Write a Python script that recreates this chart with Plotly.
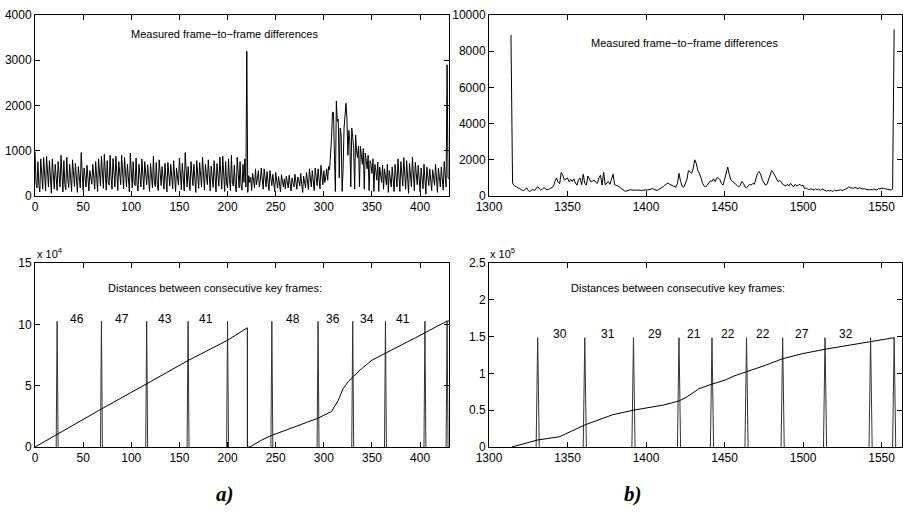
import plotly.graph_objects as go

# ---------------- data ----------------
# a) measured frame-to-frame differences, frames 0..430
diff_a = [
    980, 300, 180, 760, 240, 90, 820, 420, 150, 850,
    300, 110, 880, 350, 200, 780, 260, 60, 820, 330,
    160, 700, 280, 120, 760, 400, 200, 900, 310, 90,
    780, 250, 140, 860, 380, 190, 700, 260, 100, 800,
    420, 210, 720, 300, 80, 650, 350, 180, 960, 290,
    120, 620, 330, 200, 680, 250, 110, 560, 380, 260,
    700, 300, 150, 760, 280, 100, 820, 440, 220, 880,
    330, 170, 920, 360, 130, 780, 300, 240, 900, 420,
    150, 830, 350, 200, 880, 300, 120, 760, 380, 250,
    900, 310, 160, 850, 420, 200, 700, 280, 90, 950,
    380, 180, 760, 300, 230, 840, 260, 110, 700, 350,
    200, 820, 300, 140, 760, 420, 250, 690, 280, 100,
    720, 330, 180, 880, 300, 210, 740, 260, 120, 800,
    400, 230, 650, 300, 150, 720, 280, 90, 740, 360,
    220, 700, 310, 160, 780, 250, 100, 620, 380, 240,
    840, 300, 140, 720, 260, 110, 960, 380, 200, 650,
    300, 120, 760, 350, 230, 700, 260, 80, 780, 420,
    170, 740, 300, 200, 860, 310, 130, 700, 380, 250,
    800, 270, 110, 660, 320, 190, 780, 260, 90, 720,
    400, 220, 860, 300, 150, 880, 330, 100, 760, 280,
    180, 820, 360, 120, 900, 300, 220, 680, 250, 90,
    860, 320, 180, 760, 240, 130, 700, 300, 820, 200,
    3200, 80, 450, 300, 420, 120, 500, 350, 180, 600,
    250, 380, 560, 200, 330, 620, 280, 150, 600, 350,
    200, 540, 300, 120, 560, 420, 230, 480, 260, 100,
    520, 300, 180, 430, 260, 90, 470, 330, 200, 380,
    160, 440, 300, 180, 460, 250, 110, 400, 320, 200,
    480, 280, 150, 420, 350, 220, 500, 260, 80, 440,
    300, 180, 520, 280, 140, 600, 330, 200, 560, 260,
    120, 620, 350, 230, 600, 300, 160, 680, 380, 250,
    560, 300, 420, 600, 350, 650, 580, 900, 1300, 1850,
    1850, 900, 100, 2100, 1650, 1700, 400, 1500, 1350, 100,
    600, 1500, 1950, 2050, 1700, 900, 1450, 1200, 200, 1500,
    1300, 1050, 150, 1350, 1000, 850, 1100, 200, 1100, 950,
    700, 1050, 150, 950, 800, 600, 900, 120, 780, 700,
    500, 820, 100, 700, 560, 350, 750, 100, 640, 500,
    300, 680, 150, 600, 420, 250, 700, 80, 560, 380,
    200, 640, 300, 100, 700, 420, 200, 820, 330, 100,
    760, 400, 220, 850, 300, 150, 780, 260, 60, 720,
    420, 200, 860, 300, 120, 740, 380, 250, 680, 280,
    90, 620, 330, 160, 700, 260, 40, 640, 380, 230,
    600, 300, 120, 580, 420, 240, 700, 280, 80, 620,
    350, 200, 640, 300, 130, 760, 400, 200, 2900, 400,
    380,
]
frames_a_start = 0

# b) measured frame-to-frame differences, frames 1314..1558
diff_b = [
    8900, 720, 580, 520, 470, 420, 380, 330, 290, 380,
    450, 300, 250, 320, 360, 300, 420, 520, 400, 330,
    380, 460, 400, 340, 370, 420, 450, 520, 800, 1000,
    760, 680, 1300, 1150, 880, 950, 1000, 780, 920, 800,
    950, 720, 600, 880, 1000, 620, 1200, 700, 600, 1100,
    950, 780, 820, 880, 760, 700, 1000, 1150, 600, 1300,
    620, 700, 800, 650, 900, 1200, 620, 600, 560, 500,
    420, 350, 300, 260, 300, 340, 350, 330, 320, 300,
    320, 330, 310, 300, 320, 350, 340, 330, 360, 380,
    400, 380, 330, 300, 350, 400, 450, 520, 600, 680,
    720, 650, 600, 580, 520, 480, 700, 1250, 800, 550,
    480, 750, 900, 1400, 1350, 1250, 1500, 2000, 1800, 1400,
    1250, 1000, 700, 550, 500, 600, 700, 850, 800, 950,
    800, 1000, 1000, 900, 700, 600, 900, 1300, 1600, 1200,
    900, 800, 750, 650, 550, 500, 600, 800, 700, 500,
    450, 550, 650, 600, 700, 650, 1000, 1250, 1350, 1200,
    900, 700, 600, 650, 900, 1200, 1400, 1300, 1100, 900,
    800, 850, 800, 650, 600, 550, 650, 550, 700, 600,
    500, 650, 550, 600, 650, 550, 600, 400, 450, 380,
    350, 400, 380, 320, 400, 350, 380, 300, 400, 350,
    300, 260, 320, 280, 300, 250, 330, 280, 300, 320,
    350, 300, 320, 380, 420, 500, 460, 450, 420, 480,
    450, 400, 460, 420, 380, 400, 380, 350, 330, 360,
    340, 380, 350, 330, 400, 420, 450, 430, 400, 380,
    360, 350, 330, 380, 9200,
]
frames_b_start = 1314

# a) cumulative distance curve (vertices)
curve_a_x = [0, 23, 69, 116, 159, 200, 220.5, 220.6, 223, 235, 246, 270, 294, 308, 315, 320, 325.5, 330.7, 337.7, 350, 364, 395, 428, 430]
curve_a_y = [0, 10500, 31000, 51500, 70500, 87000, 97200, 0, 0, 5500, 9500, 16500, 23500, 29000, 38000, 47500, 53500, 57500, 62800, 70800, 76300, 89000, 102700, 102700]
keyframes_a = [23, 69, 116, 159, 200, 246, 294, 330, 364, 405, 428]
spike_a = 102500
labels_a = ["46", "47", "43", "41", "48", "36", "34", "41"]
label_gap_starts_a = [23, 69, 116, 159, 246, 294, 330, 364]

# b) cumulative distance curve (vertices)
curve_b_x = [1314.5, 1331, 1345, 1361, 1379, 1392, 1411, 1421, 1426, 1433.5, 1442, 1450.5, 1456, 1464, 1470, 1476, 1487, 1500, 1514.5, 1530, 1543, 1558]
curve_b_y = [0, 9500, 14000, 30000, 44000, 50000, 57000, 62500, 68000, 79000, 85500, 91000, 96500, 102000, 106000, 111000, 120000, 127000, 133000, 138500, 144000, 148500]
keyframes_b = [1331, 1361, 1392, 1421, 1442, 1464, 1487, 1514, 1543, 1558]
spike_b = 148500
labels_b = ["30", "31", "29", "21", "22", "22", "27", "32"]

# ---------------- figure ----------------
FONT = "Liberation Sans, Arial, Helvetica, sans-serif"
W, H = 903, 532

def px_x(p):
    return p / W

def px_y(p):
    return 1 - p / H

def spikes(keys, height):
    xs, ys = [], []
    for k in keys:
        xs += [k - 1, k, k + 1, None]
        ys += [0, height, 0, None]
    return xs, ys

fig = go.Figure()
line = dict(color="black", width=1)

fig.add_trace(go.Scatter(x=list(range(frames_a_start, frames_a_start + len(diff_a))), y=diff_a,
                         mode="lines", line=line, xaxis="x", yaxis="y"))
fig.add_trace(go.Scatter(x=list(range(frames_b_start, frames_b_start + len(diff_b))), y=diff_b,
                         mode="lines", line=line, xaxis="x2", yaxis="y2"))

sx, sy = spikes(keyframes_a, spike_a)
fig.add_trace(go.Scatter(x=sx, y=sy, mode="lines", line=dict(color="#333", width=1), xaxis="x3", yaxis="y3"))
fig.add_trace(go.Scatter(x=curve_a_x, y=curve_a_y, mode="lines", line=line, xaxis="x3", yaxis="y3"))

sx, sy = spikes(keyframes_b, spike_b)
fig.add_trace(go.Scatter(x=sx, y=sy, mode="lines", line=dict(color="#333", width=1), xaxis="x4", yaxis="y4"))
fig.add_trace(go.Scatter(x=curve_b_x, y=curve_b_y, mode="lines", line=line, xaxis="x4", yaxis="y4"))

def ax(**kw):
    d = dict(showline=True, linecolor="black", linewidth=1, mirror="ticks", ticks="inside",
             ticklen=5, tickcolor="black", tickwidth=1, showgrid=False, zeroline=False,
             automargin=False, tickformat="d",
             tickfont=dict(family=FONT, size=12, color="black"), fixedrange=True)
    d.update(kw)
    return d

left_dom = [px_x(35), px_x(449)]
right_dom = [px_x(489), px_x(902)]
top_dom = [px_y(196), px_y(15)]
bot_dom = [px_y(447), px_y(263)]

fig.update_layout(
    template="none",
    width=W, height=H, margin=dict(l=0, r=0, t=0, b=0, pad=0, autoexpand=False),
    paper_bgcolor="white", plot_bgcolor="white", showlegend=False,
    xaxis=ax(domain=left_dom, range=[0, 430], tickvals=list(range(0, 401, 50)), anchor="y"),
    yaxis=ax(domain=top_dom, range=[0, 4000], tickvals=[0, 1000, 2000, 3000, 4000], anchor="x"),
    xaxis2=ax(domain=right_dom, range=[1300, 1563], tickvals=list(range(1300, 1551, 50)), anchor="y2"),
    yaxis2=ax(domain=top_dom, range=[0, 10000], tickvals=list(range(0, 10001, 2000)), anchor="x2"),
    xaxis3=ax(domain=left_dom, range=[0, 430], tickvals=list(range(0, 401, 50)), anchor="y3"),
    yaxis3=ax(domain=bot_dom, range=[0, 150000], tickvals=[0, 50000, 100000, 150000],
              ticktext=["0", "5", "10", "15"], anchor="x3"),
    xaxis4=ax(domain=right_dom, range=[1300, 1563], tickvals=list(range(1300, 1551, 50)), anchor="y4"),
    yaxis4=ax(domain=bot_dom, range=[0, 250000], tickvals=[0, 50000, 100000, 150000, 200000, 250000],
              ticktext=["0", "0.5", "1", "1.5", "2", "2.5"], anchor="x4"),
)

ann = []
tf = dict(family=FONT, size=11, color="black")
lf = dict(family=FONT, size=12, color="black")
ann.append(dict(x=197, y=3590, xref="x", yref="y", text="Measured frame\u2212to\u2212frame differences",
                showarrow=False, font=tf))
ann.append(dict(x=1424.6, y=8455, xref="x2", yref="y2", text="Measured frame\u2212to\u2212frame differences",
                showarrow=False, font=tf))
ann.append(dict(x=187, y=129400, xref="x3", yref="y3", text="Distances between consecutive key frames:",
                showarrow=False, font=tf))
ann.append(dict(x=1420.3, y=215600, xref="x4", yref="y4", text="Distances between consecutive key frames:",
                showarrow=False, font=tf))
for lab, st in zip(labels_a, label_gap_starts_a):
    i = keyframes_a.index(st)
    xm = (keyframes_a[i] + keyframes_a[i + 1]) / 2 - 2
    ann.append(dict(x=xm, y=104300, xref="x3", yref="y3", text=lab, showarrow=False, font=lf))
for i, lab in enumerate(labels_b):
    xm = (keyframes_b[i] + keyframes_b[i + 1]) / 2 - 1
    ann.append(dict(x=xm, y=153000, xref="x4", yref="y4", text=lab, showarrow=False, font=lf))

ann.append(dict(x=px_x(35), y=px_y(253), xref="paper", yref="paper", xanchor="left", yanchor="middle",
                text="x 10<sup>4</sup>", showarrow=False, font=dict(family=FONT, size=11, color="black")))
ann.append(dict(x=px_x(488), y=px_y(253), xref="paper", yref="paper", xanchor="left", yanchor="middle",
                text="x 10<sup>5</sup>", showarrow=False, font=dict(family=FONT, size=11, color="black")))
ann.append(dict(x=px_x(214), y=px_y(508), xref="paper", yref="paper", text="<b><i>a)</i></b>",
                showarrow=False, font=dict(family="Liberation Serif, Times New Roman, serif", size=21, color="black")))
ann.append(dict(x=px_x(644), y=px_y(508), xref="paper", yref="paper", text="<b><i>b)</i></b>",
                showarrow=False, font=dict(family="Liberation Serif, Times New Roman, serif", size=21, color="black")))
fig.update_layout(annotations=ann)

fig.write_html("out.html", config={"displayModeBar": False},
               post_script="document.body.style.margin='0';")
